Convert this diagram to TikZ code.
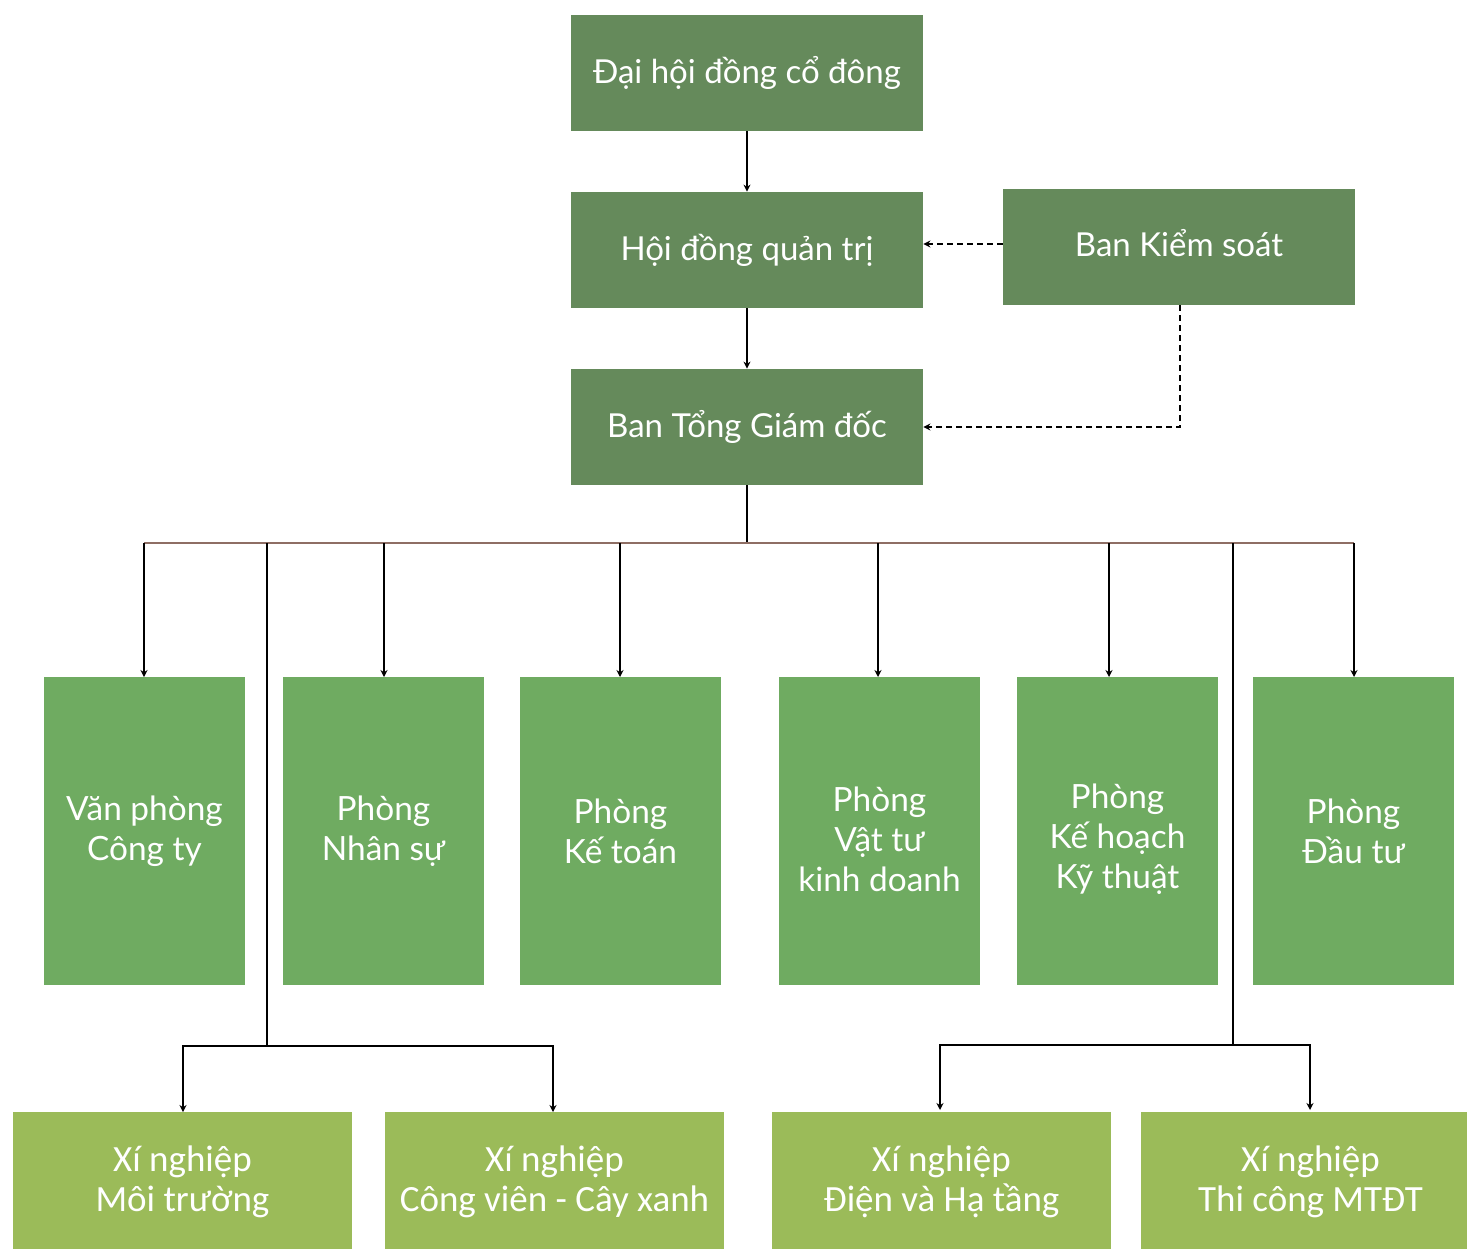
\documentclass[tikz,border=0pt]{standalone}
\usepackage{fontspec}
\setmainfont{Lato}
\newfontfamily\bottomfont{Carlito}
\usetikzlibrary{arrows.meta}
\definecolor{darkg}{HTML}{658A5B}
\definecolor{midg}{HTML}{6FAB61}
\definecolor{lightg}{HTML}{9BBB59}
\definecolor{busc}{HTML}{8E6E64}
\begin{document}
\begin{tikzpicture}[x=0.5pt,y=-0.5pt,
  topbox/.style={fill=darkg,draw=none,text=white,minimum width=176pt,minimum height=58pt,align=center,inner sep=0pt,font=\fontsize{16.5}{20}\selectfont},
  midbox/.style={fill=midg,draw=none,text=white,minimum width=100.5pt,minimum height=154pt,align=center,inner sep=0pt,font=\fontsize{16.7}{20}\selectfont},
  botbox/.style={fill=lightg,draw=none,text=white,minimum width=169.5pt,minimum height=70pt,align=center,inner sep=0pt,font=\bottomfont\fontsize{18.5}{20}\selectfont},
  txt/.style={text=white,align=center,inner sep=0pt},
  conn/.style={line width=0.9pt,-{Stealth[length=3.5pt,width=3.5pt]}},
  dconn/.style={line width=0.8pt,dashed,dash pattern=on 3pt off 2pt,-{Stealth[length=3.5pt,width=3.5pt]}},
  plain/.style={line width=0.9pt}]
\useasboundingbox (0,0) rectangle (1467,1248);
\node[topbox] (dh) at (747,73) {Đại hội đồng cổ đông};
\node[topbox] (hd) at (747,250) {Hội đồng quản trị};
\node[topbox] (ks) at (1179,247) {};
\node[txt,font=\fontsize{16.5}{20}\selectfont] (kst) at (1179,243) {Ban Kiểm soát};
\node[topbox] (tgd) at (747,427) {Ban Tổng Giám đốc};

\node[midbox] (vp) at (144.5,831) {Văn phòng\\Công ty};
\node[midbox] (ns) at (383.5,831) {Phòng\\Nhân sự};
\node[midbox] (kt) at (620.5,831) {Phòng\\Kế toán};
\node[midbox] (vt) at (879.5,831) {};
\node[txt,font=\fontsize{16.7}{20}\selectfont] (vtt) at (879.5,839) {Phòng\\Vật tư\\kinh doanh};
\node[midbox] (kh) at (1117.5,831) {};
\node[txt,font=\fontsize{16.7}{20}\selectfont] (kht) at (1117.5,839) {Phòng\\Kế hoạch\\Kỹ thuật};
\node[midbox] (dt) at (1353.5,831) {Phòng\\Đầu tư};

\node[botbox] (mt) at (182.5,1182) {Xí nghiệp\\Môi trường};
\node[botbox] (cv) at (554.5,1182) {Xí nghiệp\\Công viên - Cây xanh};
\node[botbox] (dht) at (941.5,1182) {Xí nghiệp\\Điện và Hạ tầng};
\node[botbox] (tc) at (1310.5,1182) {Xí nghiệp\\Thi công MTĐT};

\draw[conn] (dh) -- (hd);
\draw[conn] (hd) -- (tgd);
\draw[dconn] (ks.west |- 0,244) -- (hd.east |- 0,244);
\draw[dconn] (1180,305) |- (tgd.east);

\coordinate (busl) at (144,543);
\coordinate (busr) at (1354,543);
\draw[plain] (tgd.south) -- (747,543);
\draw[line width=0.9pt,busc] (busl) -- (busr);

\draw[conn] (144,543) -- (144,677);
\draw[conn] (384,543) -- (384,677);
\draw[conn] (620,543) -- (620,677);
\draw[conn] (878,543) -- (878,677);
\draw[conn] (1109,543) -- (1109,677);
\draw[conn] (1354,543) -- (1354,677);

\coordinate (lj) at (267,1046);
\coordinate (rj) at (1233,1045);
\draw[plain] (267,543) -- (lj);
\draw[plain] (1233,543) -- (rj);
\draw[conn] (lj) -| (183,1112);
\draw[conn] (lj) -| (553,1112);
\draw[conn] (rj) -| (940,1110);
\draw[conn] (rj) -| (1310,1110);
\end{tikzpicture}
\end{document}
